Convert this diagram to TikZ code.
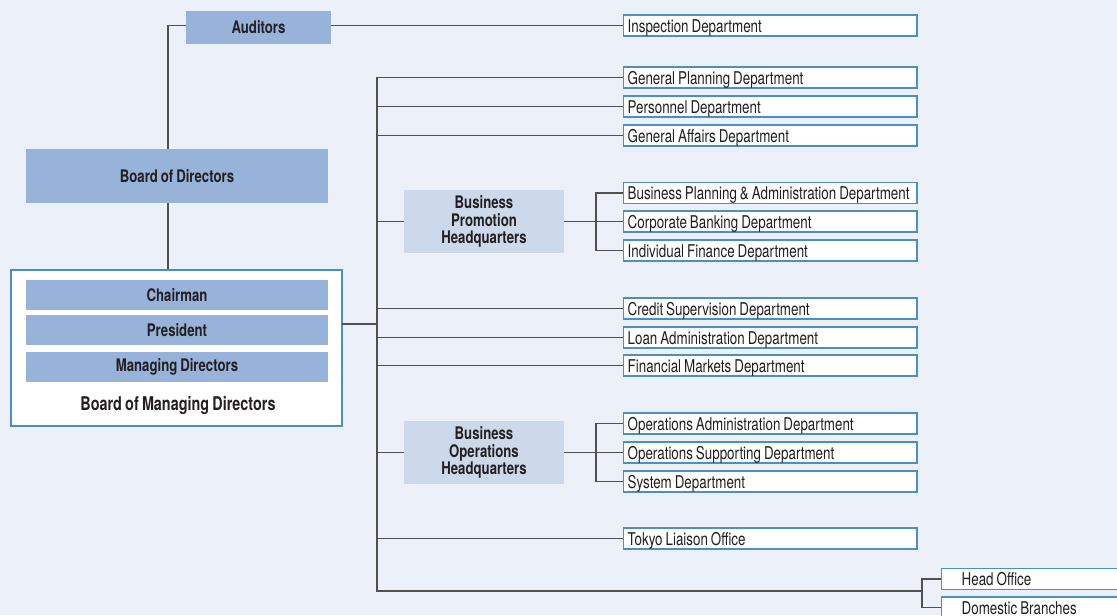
\documentclass[tikz,border=0pt]{standalone}
\usepackage{fontspec}
\setmainfont{TeX Gyre Heros}[FakeStretch=0.76,WordSpace=0.8]
\definecolor{bg}{HTML}{ECF1F9}
\definecolor{darkbox}{HTML}{97B3D9}
\definecolor{lightbox}{HTML}{CBD9EB}
\definecolor{bord}{HTML}{4A90C4}
\definecolor{ln}{HTML}{505050}
\definecolor{txt}{HTML}{231F20}
\tikzset{
  dept/.style={draw=bord, line width=1pt, fill=white, anchor=west, minimum height=15.75pt,
    inner xsep=3pt, inner ysep=0pt, text height=10.4pt, text depth=0.6pt,
    execute at begin node={\hbox to 214pt\bgroup},
    execute at end node={\hfil\egroup},
    font=\fontsize{13.2}{15}\selectfont, text=txt},
  hq/.style={fill=lightbox, minimum width=120pt, minimum height=47.25pt, align=center,
    inner sep=0pt, font=\bfseries\fontsize{13}{13}\selectfont, text=txt},
  role/.style={fill=darkbox, minimum width=226.5pt, minimum height=22.5pt, inner sep=0pt,
    font=\bfseries\fontsize{13}{15}\selectfont, text=txt},
  conn/.style={draw=ln, line width=0.9pt},
}
\begin{document}
\begin{tikzpicture}[x=0.75pt,y=-0.75pt]
\fill[bg] (0,0) rectangle (1117,615);
\useasboundingbox (0,0) rectangle (1117,615);
\clip (0,0) rectangle (1117,615);

% left side
\node[role, minimum height=24.75pt, minimum width=108.75pt] (aud) at (258.5,27.5) {Auditors};
\node[role, minimum height=40.5pt] (bod) at (177,176) {Board of Directors};
\node[draw=bord, line width=1pt, fill=white, minimum width=248.25pt, minimum height=117pt, inner sep=0pt] (bmd) at (176.5,348) {};
\node[role] (chair) at (177,295) {Chairman};
\node[role] (pres) at (177,330) {President};
\node[role] (md) at (177,367) {Managing Directors};
\node[font=\bfseries\fontsize{14.2}{15}\selectfont, text=txt, inner sep=0pt] (bmdl) at (178,406) {Board of Managing Directors};

% departments
\node[dept] (insp) at (623,25.5) {Inspection Department};
\node[dept] (gp) at (623,77.5) {General Planning Department};
\node[dept] (pers) at (623,106.5) {Personnel Department};
\node[dept] (ga) at (623,135.5) {General Affairs Department};
\node[hq] (bphq) at (484,221.5) {Business\\Promotion\\Headquarters};
\node[dept] (bpa) at (623,193) {Business Planning \& Administration Department};
\node[dept] (cb) at (623,221.5) {Corporate Banking Department};
\node[dept] (ifd) at (623,250.5) {Individual Finance Department};
\node[dept] (cs) at (623,308.5) {Credit Supervision Department};
\node[dept] (la) at (623,337.5) {Loan Administration Department};
\node[dept] (fm) at (623,365.5) {Financial Markets Department};
\node[hq] (bohq) at (484,452.5) {Business\\Operations\\Headquarters};
\node[dept] (oa) at (623,423.5) {Operations Administration Department};
\node[dept] (os) at (623,452.5) {Operations Supporting Department};
\node[dept] (sys) at (623,481.5) {System Department};
\node[dept] (tky) at (623,538.5) {Tokyo Liaison Office};
\node[dept, inner xsep=15pt] (ho) at (941,579) {Head Office};
\node[dept, inner xsep=15pt] (db) at (941,607.5) {Domestic Branches};

% coordinates
\coordinate (vx) at (168,0);
\coordinate (bmdport) at (342,324);
\coordinate (tbot) at (377,591);
\coordinate (fx1) at (596,221.5);
\coordinate (fx2) at (596,452.5);
\coordinate (fk) at (922,591);

% connectors
\draw[conn] (aud.west |- insp.west) -| (vx |- bod.north);
\draw[conn] (aud.east |- insp.west) -- (insp.west);
\draw[conn] (vx |- bod.south) -- (vx |- bmd.north);
\draw[conn] (bmdport) -- (bmdport -| tbot);
\draw[conn] (gp.west) -| (tbot) -- (fk);
\draw[conn] (pers.west) -- (pers.west -| tbot);
\draw[conn] (ga.west) -- (ga.west -| tbot);
\draw[conn] (bphq.west) -- (bphq.west -| tbot);
\draw[conn] (cs.west) -- (cs.west -| tbot);
\draw[conn] (la.west) -- (la.west -| tbot);
\draw[conn] (fm.west) -- (fm.west -| tbot);
\draw[conn] (bohq.west) -- (bohq.west -| tbot);
\draw[conn] (tky.west) -- (tky.west -| tbot);
\draw[conn] (bphq.east) -- (cb.west);
\draw[conn] (bpa.west) -| (fx1) |- (ifd.west);
\draw[conn] (bohq.east) -- (os.west);
\draw[conn] (oa.west) -| (fx2) |- (sys.west);
\draw[conn] (ho.west) -| (fk) |- (db.west);
\end{tikzpicture}
\end{document}
